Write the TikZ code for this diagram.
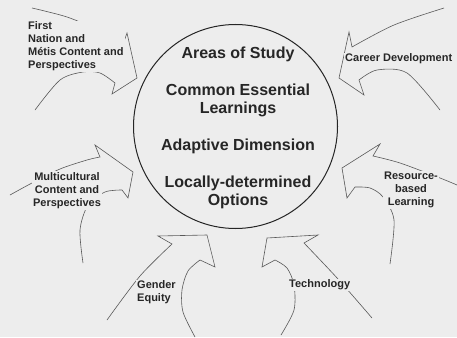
\documentclass[tikz,border=0pt]{standalone}
\usepackage{fontspec}
\setmainfont{Liberation Sans}
\colorlet{paper}{black!7}
\colorlet{ink}{black!85}
\begin{document}
\begin{tikzpicture}[x=1pt, y=-1pt,
        outline/.style={draw=black!65, line width=0.6pt, line join=miter},
        label/.style={font=\bfseries\fontsize{11}{13}\selectfont, text=ink, fill=paper, inner sep=1pt}]
        \useasboundingbox[fill=paper] (0,0) rectangle (457,337);
        \node[draw=ink, line width=1pt, circle, minimum size=204pt, inner sep=0pt] (core) at (235.5,126.5) {};
        \node[align=center, text=ink, font=\bfseries\fontsize{16}{18}\selectfont] (areas) at (238,128)
            {Areas of Study\\[19pt] Common Essential\\ Learnings\\[19pt] Adaptive Dimension\\[19pt] Locally-determined\\ Options};
        % arrows pointing in at the circle
        \draw[outline] plot[smooth] coordinates {(32,8) (67,17) (97,30) (122,47)} -- (127,33) -- (137,78) -- (112,94)
            -- plot[smooth] coordinates {(115,83) (100,73) (83,72) (60,80) (35,110)};
        \draw[outline] plot[smooth] coordinates {(444,8) (394,25) (352,47)} -- (349,32) -- (339,78) -- (364,95)
            -- plot[smooth] coordinates {(359,80) (377,70) (407,73) (440,110)};
        \draw[outline] plot[smooth] coordinates {(457,185) (440,178) (400,163) (373,156)} -- (380,144) -- (342,168) -- (347,198)
            -- plot[smooth] coordinates {(355,187) (370,188) (383,197) (394,220) (390,264)};
        \draw[outline] plot[smooth] coordinates {(372,318) (338,279) (304,243)} -- (318,235) -- (267,238) -- (262,267)
            -- plot[smooth] coordinates {(275,260) (287,268) (294,285) (294,310) (281,335)};
        \draw[outline] plot[smooth] coordinates {(107,320) (140,276) (172,244)} -- (158,236) -- (207,235) -- (215,267)
            -- plot[smooth] coordinates {(200,260) (188,271) (182,290) (183,312) (195,337)};
        \draw[outline] plot[smooth] coordinates {(10,195) (32,183) (60,169) (87,160) (100,157)} -- (95,145) -- (133,172) -- (128,198)
            -- plot[smooth] coordinates {(122,190) (105,192) (88,205) (80,230) (83,263)};
        % labels
        \node[label, align=left, anchor=west] (first-nation) at (27,46.5) {First\\ Nation and\\ M\'etis Content and\\ Perspectives};
        \node[label, anchor=west] (career) at (344,59) {Career Development};
        \node[label, align=center] (resource) at (411,190) {Resource-\\ based\\ Learning};
        \node[label, anchor=west] (technology) at (288,285) {Technology};
        \node[label, align=left, anchor=west] (gender) at (136,292.5) {Gender\\ Equity};
        \node[label, align=center] (multicultural) at (67,190.5) {Multicultural\\ Content and\\ Perspectives};
\end{tikzpicture}
\end{document}
